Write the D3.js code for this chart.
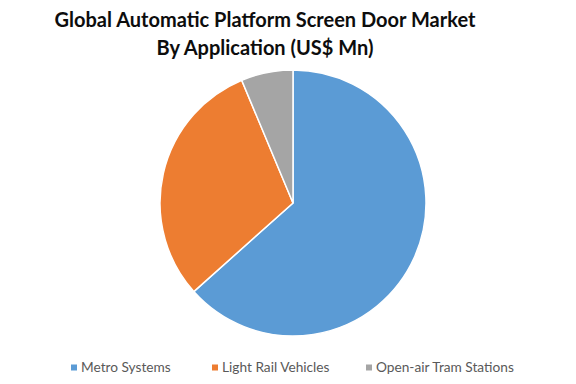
<!DOCTYPE html>
<html>
<head>
<meta charset="utf-8">
<script src="https://cdn.jsdelivr.net/npm/d3@7"></script>
<style>
  body { margin: 0; background: #fff; }
  svg { display: block; }
</style>
</head>
<body>
<div id="chart"></div>
<script>
// data (share of market, %)
var categories = ["Metro Systems", "Light Rail Vehicles", "Open-air Tram Stations"];
var values = [63.4, 30.3, 6.3];
var colors = ["#5B9BD5", "#ED7D31", "#A5A5A5"];
var titleLines = ["Global Automatic Platform Screen Door Market", "By Application (US$ Mn)"];

var width = 576, height = 384;
var cx = 293, cy = 203, radius = 133;

var svg = d3.select("#chart")
    .append("svg")
    .attr("width", width)
    .attr("height", height);

// title
svg.selectAll(".title")
    .data(titleLines)
    .enter()
    .append("text")
    .attr("class", "title")
    .attr("x", 265)
    .attr("y", function (d, i) { return 27 + i * 28; })
    .attr("text-anchor", "middle")
    .style("font-family", "Lato, 'Open Sans', sans-serif")
    .style("font-weight", "bold")
    .style("font-size", "20px")
    .style("fill", "#0d0d0d")
    .text(function (d) { return d; });

// pie
var color = d3.scaleOrdinal().domain(categories).range(colors);
var pie = d3.pie().sort(null).value(function (d) { return d.value; });
var arc = d3.arc().innerRadius(0).outerRadius(radius);

var data = categories.map(function (c, i) { return { name: c, value: values[i] }; });

var g = svg.append("g")
    .attr("transform", "translate(" + cx + "," + cy + ")");

g.selectAll("path")
    .data(pie(data))
    .enter()
    .append("path")
    .attr("d", arc)
    .attr("fill", function (d) { return color(d.data.name); })
    .attr("stroke", "#fff")
    .attr("stroke-width", 1.5);

// legend
var legendX = [71, 212, 366];
var legend = svg.selectAll(".legend")
    .data(categories)
    .enter()
    .append("g")
    .attr("class", "legend")
    .attr("transform", function (d, i) { return "translate(" + legendX[i] + ",367.5)"; });

legend.append("rect")
    .attr("x", 0)
    .attr("y", -3)
    .attr("width", 6)
    .attr("height", 6)
    .attr("fill", function (d) { return color(d); });

legend.append("text")
    .attr("x", 10)
    .attr("y", 0)
    .attr("dy", "0.35em")
    .style("font-family", "Lato, 'Open Sans', sans-serif")
    .style("font-size", "13.7px")
    .style("fill", "#595959")
    .text(function (d) { return d; });
</script>
</body>
</html>
